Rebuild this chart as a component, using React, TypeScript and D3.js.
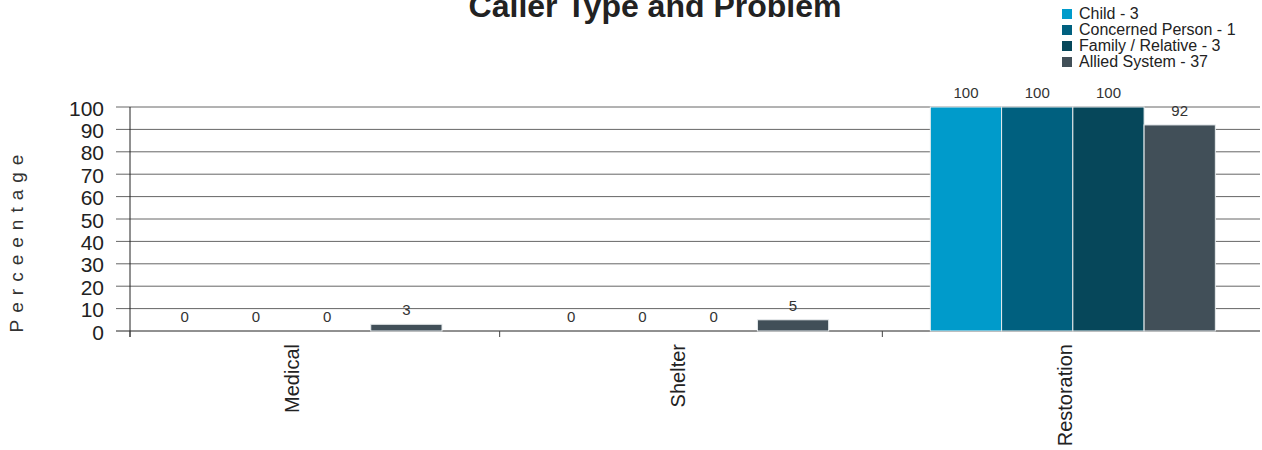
import React from "react";
import * as d3 from "d3";

const categories = ["Medical", "Shelter", "Restoration"];
const seriesNames = ["Child - 3", "Concerned Person - 1", "Family / Relative - 3", "Allied System - 37"];
const childValues = [0, 0, 100];
const concernedValues = [0, 0, 100];
const familyValues = [0, 0, 100];
const alliedValues = [3, 5, 92];
const colors = ["#009bcb", "#00607f", "#06475a", "#414f58"];
const yTicks = [0, 10, 20, 30, 40, 50, 60, 70, 80, 90, 100];

const W = 1262;
const H = 450;
const FONT = "'Liberation Sans', Arial, sans-serif";

export default function App() {
  const seriesValues = [childValues, concernedValues, familyValues, alliedValues];
  const y = d3.scaleLinear().domain([0, 100]).range([331, 107]);
  const x0 = d3.scaleBand<string>().domain(categories).range([106, 1266]).padding(0);
  const x1 = d3.scaleBand<string>().domain(seriesNames).range([51, 336]).padding(0);
  const bw = x1.bandwidth();
  const tickXs = [130, x0("Shelter")! + 7, x0("Restoration")! + 3];

  return (
    <svg width={W} height={H} style={{ position: "absolute", left: 0, top: 0, background: "#fff" }} fontFamily={FONT}>
      <text x={655} y={17} textAnchor="middle" fontSize={32} fontWeight="bold" fill="#222">
        Caller Type and Problem
      </text>

      {/* legend */}
      {seriesNames.map((s, i) => (
        <g key={s} transform={`translate(1062, ${9 + i * 16})`}>
          <rect x={0} y={0} width={10} height={10} fill={colors[i]} />
          <text x={17} y={10} fontSize={16} fill="#222">{s}</text>
        </g>
      ))}

      {/* y title */}
      <text
        transform={`translate(23, 240) rotate(-90)`}
        textAnchor="middle"
        fontSize={19}
        letterSpacing={7}
        fill="#333"
      >
        Perceentage
      </text>

      {/* gridlines */}
      {yTicks.map((t) => (
        <g key={t}>
          <line x1={116} x2={1260} y1={y(t)} y2={y(t)} stroke={t === 0 ? "#222" : "#666"} strokeWidth={1} />
          <text x={104} y={y(t) + 3} textAnchor="end" dominantBaseline="middle" fontSize={21} fill="#222">
            {t}
          </text>
        </g>
      ))}

      {/* y axis line */}
      <line x1={130} x2={130} y1={107} y2={337} stroke="#222" strokeWidth={1} />
      {tickXs.map((tx, i) => (
        <line key={i} x1={tx} x2={tx} y1={331} y2={337} stroke="#444" strokeWidth={1} />
      ))}

      {/* bars */}
      {categories.map((c, ci) => (
        <g key={c} transform={`translate(${x0(c)}, 0)`}>
          {seriesNames.map((s, si) => {
            const v = seriesValues[si][ci];
            const bx = x1(s)!;
            return (
              <g key={s}>
                {v > 0 && (
                  <rect
                    x={bx}
                    y={y(v)}
                    width={bw}
                    height={y(0) - y(v)}
                    fill={colors[si]}
                    stroke="#e8ecee"
                    strokeWidth={1}
                  />
                )}
                <text x={bx + bw / 2 - (v === 0 ? 8 : 0)} y={y(v) - 13} textAnchor="middle" dominantBaseline="middle" fontSize={15} fill="#333">
                  {v}
                </text>
              </g>
            );
          })}
        </g>
      ))}

      {/* category labels */}
      {categories.map((c) => (
        <text
          key={c}
          transform={`translate(${x0(c)! + x0.bandwidth() / 2 - 6}, 344) rotate(-90)`}
          textAnchor="end"
          dominantBaseline="middle"
          fontSize={20}
          fill="#222"
        >
          {c}
        </text>
      ))}
    </svg>
  );
}
